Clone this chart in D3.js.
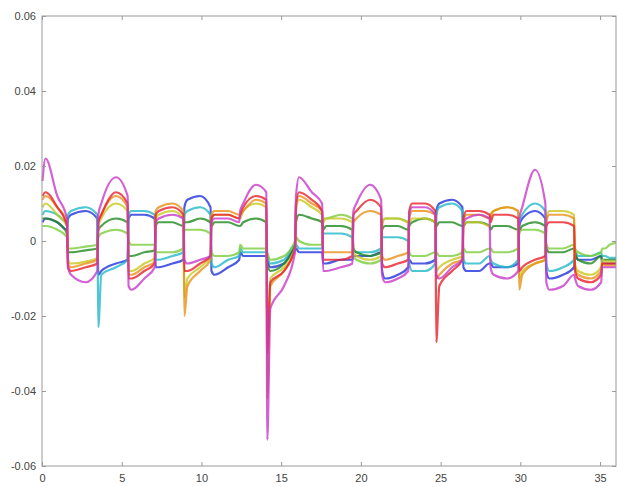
<!DOCTYPE html>
<html>
<head>
<style>
    body { margin: 0; background: #fff; }
    svg { display: block; font-family: "Liberation Sans", Arial, sans-serif; }
    .tick text { font-size: 11px; fill: #444; }
    .tick line { stroke: #999; }
</style>
</head>
<body>
<svg id="chart" width="618" height="487"></svg>
<script src="https://cdn.jsdelivr.net/npm/d3@7"></script>
<script>
    // sample times (4 per segment)
    const sampleX = [
        0.03, 0.22, 0.96, 1.57,   1.63, 1.82, 2.74, 3.47,   3.53, 3.72, 4.64, 5.37,
        5.43, 5.62, 6.42, 7.07,   7.13, 7.32, 8.18, 8.87,   8.93, 9.12, 9.92, 10.57,
        10.63, 10.82, 11.68, 12.37,   12.43, 12.62, 13.42, 14.07,   14.13, 14.32, 15.18, 15.87,
        15.93, 16.12, 16.92, 17.57,   17.63, 17.82, 18.74, 19.47,   19.53, 19.72, 20.58, 21.27,
        21.33, 21.52, 22.32, 22.97,   23.03, 23.22, 24.02, 24.67,   24.73, 24.92, 25.72, 26.37,
        26.43, 26.62, 27.42, 28.07,   28.13, 28.32, 29.18, 29.87,   29.93, 30.12, 30.92, 31.57,
        31.63, 31.82, 32.68, 33.37,   33.43, 33.62, 34.42, 35.07,   35.13, 35.32, 35.6, 36.0
    ];

    // series values, in units of 0.001
    const magenta = [
        16, 22, 12, 6,   -7, -9, -11, -8,   7, 10, 17, 12,   -12, -13, -10, -7,
        5, 6, 7, 6,   -5, -6, -5, -4,   5, 6, 6, 5,   8, 10, 15, 13,
        -53, -18, -12, -3,   12, 17, 13, 10,   -8, -8, -7, -6,   8, 10, 15, 11,
        -9, -11, -10, -8,   7, 9, 9, 7,   -9, -10, -7, -5,   5, 6, 7, 6,
        -7, -9, -10, -8,   6, 9, 19, 10,   -11, -13, -12, -9,   -10, -12, -13, -11,
        -7, -7, -7, -7
    ];
    const red = [
        12, 13, 9, 4,   -7, -8, -7, -6,   5, 7, 13, 10,   -10, -10, -8, -6,
        7, 8, 9, 7,   -8, -8, -6, -4,   6, 7, 7, 6,   7, 9, 12, 11,
        -30, -11, -8, -2,   10, 13, 11, 8,   -5, -5, -5, -4,   7, 8, 11, 9,
        -6, -7, -6, -5,   8, 10, 10, 8,   -27, -12, -8, -5,   6, 8, 8, 7,
        5, 7, 7, 6,   -8, -7, -5, -4,   4, 5, 5, 4,   -8, -10, -11, -9,
        -6, -6, -6, -6
    ];
    const orange = [
        11, 12, 9, 5,   -6, -7, -6, -5,   5, 7, 12, 9,   -9, -9, -7, -5.5,
        8, 9, 10, 8,   -20, -12, -8, -5,   7, 8, 8, 7,   7, 8, 11, 10,
        -42, -12, -8, -2,   9, 12, 10, 8,   -3, -3, -3, -3,   5, 6, 8, 7,
        -4, -5, -4, -3,   6, 8, 8, 7,   -10, -9, -6, -5,   5, 7, 7, 6,
        7, 8, 9, 8,   -13, -9, -6, -5,   5, 7, 7, 6,   -7, -9, -10, -8,
        -6, -6.5, -6.5, -6.5
    ];
    const yellow = [
        9, 10, 7, 4,   -5, -6, -5.5, -4.5,   4, 6, 10, 8,   -8, -8, -6, -4.5,
        6, 7, 8, 6,   -15, -10, -7, -4,   6, 7, 7, 6,   6, 8, 10, 9,
        -40, -10, -7, -2,   8, 11, 9, 7,   5, 6, 6, 5,   -3, -4, -5, -4,
        4, 6, 6, 5,   5, 6, 6, 5,   -8, -7, -5, -4,   4, 5, 5, 4,
        6, 8, 9, 8,   -10, -8, -6, -5,   6, 8, 8, 7,   -6, -8, -9, -7,
        -5, -5.5, -5.5, -5.5
    ];
    const green = [
        6, 6, 5, 2,   -3, -3, -2.5, -2,   3, 4, 6, 5,   -4, -4, -3, -2.5,
        4, 5, 5, 4,   5, 5, 6, 5,   4, 5, 5, 4,   4, 5, 6, 5,
        -6, -8, -6, -1,   5, 7, 6, 5,   3, 4, 4, 3,   -2, -3, -4, -3,
        3, 4, 4, 3,   4, 5, 6, 5,   4, 5, 5, 4,   4, 5, 5, 4,
        3, 4, 4, 3,   3, 4, 5, 4,   -2, -3, -3, -2,   -3, -5, -6, -4,
        -5, -5, -5, -5
    ];
    const lightGreen = [
        4, 4, 3, 1,   -2, -2, -1.5, -1,   1, 2, 3, 2,   0, -1, -1, -1,
        -3, -3, -3, -2,   3, 3, 3, 2,   -3, -4, -4, -3,   -1, -2, -2, -2,
        -3, -5, -4, 0,   1, 0, -1, -1,   6, 6, 7, 6,   -4, -5, -6, -5,
        5, 6, 6, 5,   -3, -4, -4, -3,   -3, -4, -4, -3,   -2, -3, -3, -2,
        -2, -3, -3, -2,   2, 3, 3, 2,   -1, -2, -2, -1,   -2, -3, -4, -3,
        -2, -2, -1, -0.5
    ];
    const cyan = [
        7, 8, 7, 5,   7, 8, 9, 7,   -23, -9, -7, -5,   7, 8, 8, 7,
        -5, -5, -4, -3,   7, 8, 9, 7,   -6, -7, -5, -4,   -2, -3, -3, -3,
        -4, -6, -5, -1,   -1, -2, -2, -2,   2, 2, 2, 1,   -3, -3, -3, -2,
        1, 1, 1, 0,   -6, -8, -8, -6,   7, 9, 10, 8,   -5, -6, -6, -4,
        -5, -6, -7, -5,   5, 7, 10, 8,   -6, -8, -7, -5,   -3, -4, -4, -3,
        -4, -4, -4.5, -4.5
    ];
    const blue = [
        5, 6, 5, 3,   6, 7, 8, 6,   -9, -8, -6, -5,   6, 7, 7, 6,
        -7, -7, -6, -5,   9, 11, 12, 9,   -8, -9, -7, -5,   -3, -4, -4, -4,
        -5, -7, -6, -2,   -2, -3, -3, -3,   -6, -6, -5, -5,   -4, -4, -4, -3,
        -8, -10, -9, -7,   -5, -6, -6, -5,   8, 10, 11, 9,   -7, -8, -8, -6,
        -6, -7, -7, -6,   4, 6, 8, 6,   -8, -10, -9, -7,   -4, -5, -5, -4,
        -6, -6, -6, -6
    ];

    const seriesList = [blue, cyan, lightGreen, green, yellow, orange, red, magenta];
    const seriesColors = ["#2233dd", "#22b8c8", "#7ccd3c", "#1f8a1f", "#c8c820", "#e8901a", "#e8202a", "#c83ac8"];

    const xTicks = [0, 5, 10, 15, 20, 25, 30, 35];
    const xTickLabels = ["0", "5", "10", "15", "20", "25", "30", "35"];
    const yTicks = [-60, -40, -20, 0, 20, 40, 60];
    const yTickLabels = ["-0.06", "-0.04", "-0.02", "0", "0.02", "0.04", "0.06"];

    const plotLeft = 42, plotRight = 616, plotTop = 16, plotBottom = 466;
    const svg = d3.select("#chart");

    const x = d3.scaleLinear().domain([0, 36]).range([plotLeft, plotRight]);
    const y = d3.scaleLinear().domain([-60, 60]).range([plotBottom, plotTop]);

    const line = d3.line()
        .x(function (d, i) { return x(sampleX[i]); })
        .y(function (d) { return y(d); })
        .curve(d3.curveMonotoneX);

    svg.append("g")
        .selectAll("path")
        .data(seriesList)
        .enter().append("path")
        .attr("d", line)
        .attr("fill", "none")
        .attr("stroke", function (d, i) { return seriesColors[i]; })
        .attr("stroke-width", 2.2)
        .attr("stroke-linejoin", "round")
        .attr("opacity", 0.8);

    // axes box
    svg.append("rect")
        .attr("x", plotLeft).attr("y", plotTop)
        .attr("width", plotRight - plotLeft).attr("height", plotBottom - plotTop)
        .attr("fill", "none").attr("stroke", "#999").attr("stroke-width", 1);

    const xAxis = svg.append("g")
        .attr("transform", "translate(0," + plotBottom + ")")
        .call(d3.axisBottom(x).tickValues(xTicks)
            .tickFormat(function (d, i) { return xTickLabels[i]; })
            .tickSizeInner(-4).tickSizeOuter(0).tickPadding(8));
    xAxis.select(".domain").remove();

    const yAxis = svg.append("g")
        .attr("transform", "translate(" + plotLeft + ",0)")
        .call(d3.axisLeft(y).tickValues(yTicks)
            .tickFormat(function (d, i) { return yTickLabels[i]; })
            .tickSizeInner(-4).tickSizeOuter(0).tickPadding(6));
    yAxis.select(".domain").remove();

    svg.append("g")
        .attr("transform", "translate(0," + plotTop + ")")
        .call(d3.axisTop(x).tickValues(xTicks).tickFormat("").tickSizeInner(-4).tickSizeOuter(0))
        .select(".domain").remove();
    svg.append("g")
        .attr("transform", "translate(" + plotRight + ",0)")
        .call(d3.axisRight(y).tickValues(yTicks).tickFormat("").tickSizeInner(-4).tickSizeOuter(0))
        .select(".domain").remove();
</script>
</body>
</html>
